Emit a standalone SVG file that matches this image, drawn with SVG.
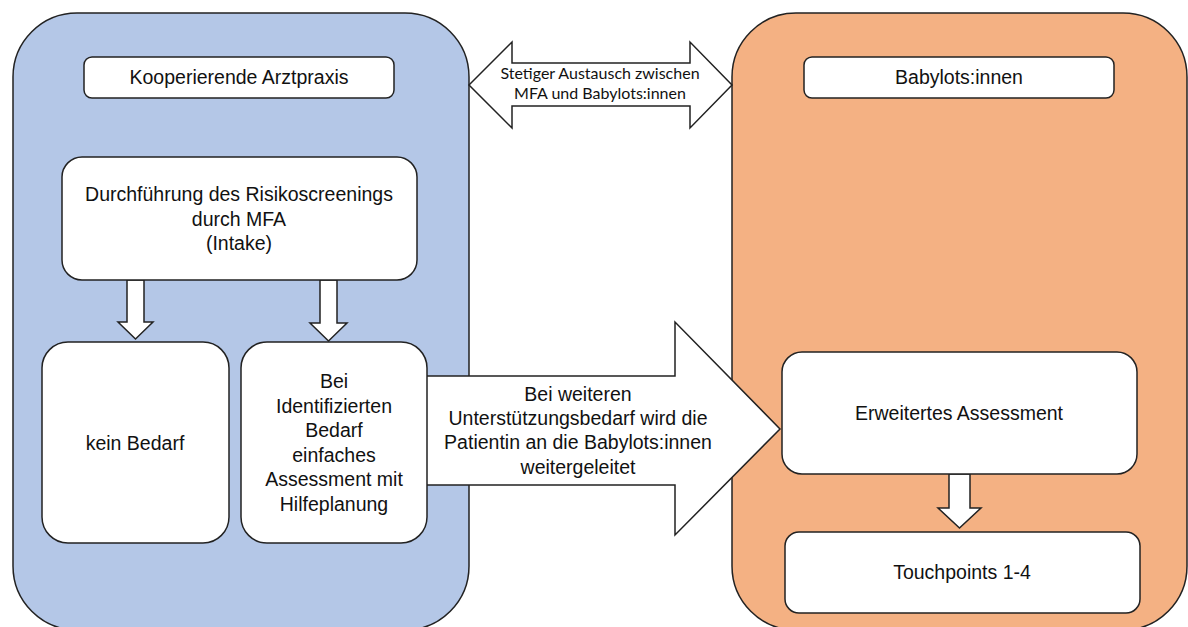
<svg xmlns="http://www.w3.org/2000/svg" width="1188" height="627" viewBox="0 0 1188 627">
<style>
.ln{stroke:#222;stroke-width:1.5}
.box{fill:#fff;stroke:#222;stroke-width:1.5}
.arr{fill:#fff;stroke:#222;stroke-width:1.5;stroke-linejoin:miter}
.t{font-family:"Liberation Sans",Arial,sans-serif;font-size:19.5px;fill:#111;text-anchor:middle}
.c{font-family:Lato,"Open Sans",sans-serif;font-size:16px;fill:#111;text-anchor:middle}
</style>
<rect width="1188" height="627" fill="#fff"/>
<g id="container-arztpraxis">
<rect x="13" y="13" width="456" height="617" rx="64" ry="64" fill="#b4c7e7" class="ln"/>
</g>
<g id="container-babylots">
<rect x="732" y="13" width="455" height="617" rx="64" ry="64" fill="#f4b183" class="ln"/>
</g>
<g id="connectors">
<path class="arr" d="M469,85 L512,42 L512,63 L690,63 L690,42 L732,85 L690,128 L690,106 L512,106 L512,128 Z"/>
<text class="c" x="600" y="79">Stetiger Austausch zwischen</text>
<text class="c" x="600" y="99">MFA und Babylots:innen</text>
<path class="arr" d="M410,376 L675,376 L675,322 L780,429 L675,535 L675,485 L410,485 Z"/>
<text class="t" x="578" y="401">Bei weiteren</text>
<text class="t" x="578" y="425">Unterstützungsbedarf wird die</text>
<text class="t" x="578" y="449">Patientin an die Babylots:innen</text>
<text class="t" x="578" y="474">weitergeleitet</text>
<path class="arr" d="M127,280 L144,280 L144,322 L153,322 L135.5,339 L118,322 L127,322 Z"/>
<path class="arr" d="M320,280 L337,280 L337,323 L347,323 L328.5,341 L310,323 L320,323 Z"/>
<path class="arr" d="M949,474 L970,474 L970,508 L981,508 L959.5,528 L938,508 L949,508 Z"/>
</g>
<g id="header-arztpraxis">
<rect class="box" x="84" y="57" width="310" height="41" rx="8"/>
<text class="t" x="239" y="84">Kooperierende Arztpraxis</text>
</g>
<g id="header-babylots">
<rect class="box" x="804" y="57" width="310" height="41" rx="8"/>
<text class="t" x="959" y="84">Babylots:innen</text>
</g>
<g id="node-screening">
<rect class="box" x="62" y="157" width="355" height="123" rx="20"/>
<text class="t" x="239" y="201">Durchführung des Risikoscreenings</text>
<text class="t" x="239" y="226">durch MFA</text>
<text class="t" x="239" y="250">(Intake)</text>
</g>
<g id="node-kein-bedarf">
<rect class="box" x="42" y="342" width="187" height="201" rx="26"/>
<text class="t" x="135" y="450">kein Bedarf</text>
</g>
<g id="node-bedarf">
<rect class="box" x="241" y="342" width="186" height="201" rx="26"/>
<text class="t" x="334" y="388">Bei</text>
<text class="t" x="334" y="413">Identifizierten</text>
<text class="t" x="334" y="437">Bedarf</text>
<text class="t" x="334" y="462">einfaches</text>
<text class="t" x="334" y="486">Assessment mit</text>
<text class="t" x="334" y="511">Hilfeplanung</text>
</g>
<g id="node-erweitert">
<rect class="box" x="782" y="352" width="355" height="122" rx="20"/>
<text class="t" x="959" y="420">Erweitertes Assessment</text>
</g>
<g id="node-touchpoints">
<rect class="box" x="785" y="532" width="355" height="81" rx="14"/>
<text class="t" x="962" y="579">Touchpoints 1-4</text>
</g>
</svg>
